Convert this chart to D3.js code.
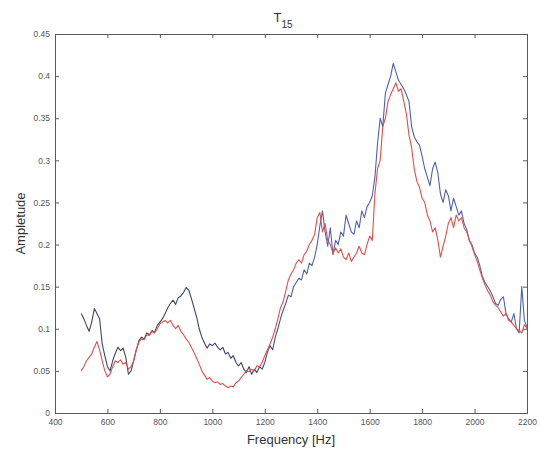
<!DOCTYPE html>
<html>
<head>
<meta charset="utf-8">
<script src="https://cdn.jsdelivr.net/npm/d3@7"></script>
<style>
  html, body { margin: 0; padding: 0; background: #fff; }
  svg { display: block; font-family: Arial, "Liberation Sans", sans-serif; }
</style>
</head>
<body>
<svg id="chart" width="540" height="454"></svg>
<script>
// Frequency grid (Hz), 10 Hz spacing
const freqStart = 500, freqStep = 10;

// Spectrum amplitudes, blue series
const blueSeries = [
  0.118,0.112,0.104,0.097,0.108,0.124,0.118,0.112,0.082,0.068,
  0.055,0.050,0.062,0.071,0.078,0.074,0.077,0.066,0.046,0.050,
  0.062,0.075,0.086,0.090,0.088,0.095,0.093,0.098,0.096,0.104,
  0.108,0.112,0.118,0.125,0.130,0.134,0.129,0.137,0.139,0.143,
  0.149,0.146,0.136,0.125,0.114,0.100,0.090,0.083,0.077,0.082,
  0.080,0.083,0.078,0.075,0.078,0.070,0.072,0.065,0.068,0.060,
  0.056,0.060,0.052,0.048,0.055,0.046,0.052,0.048,0.055,0.052,
  0.060,0.072,0.080,0.075,0.090,0.100,0.112,0.122,0.130,0.140,
  0.138,0.150,0.155,0.160,0.158,0.170,0.165,0.178,0.175,0.185,
  0.200,0.222,0.240,0.215,0.198,0.220,0.188,0.205,0.200,0.215,
  0.210,0.235,0.225,0.215,0.212,0.228,0.220,0.240,0.232,0.245,
  0.250,0.258,0.280,0.320,0.350,0.340,0.380,0.390,0.400,0.415,
  0.405,0.395,0.390,0.385,0.378,0.370,0.340,0.328,0.322,0.318,
  0.305,0.290,0.280,0.270,0.290,0.298,0.285,0.260,0.250,0.265,
  0.258,0.240,0.255,0.245,0.235,0.240,0.225,0.218,0.205,0.200,
  0.190,0.185,0.175,0.162,0.155,0.150,0.145,0.138,0.130,0.128,
  0.135,0.138,0.118,0.112,0.108,0.118,0.100,0.095,0.150,0.110,
  0.102
];

// Spectrum amplitudes, red series
const redSeries = [
  0.050,0.055,0.062,0.066,0.070,0.078,0.085,0.075,0.062,0.050,
  0.043,0.046,0.055,0.062,0.060,0.063,0.058,0.060,0.052,0.055,
  0.062,0.075,0.084,0.088,0.087,0.093,0.092,0.097,0.095,0.100,
  0.106,0.108,0.110,0.107,0.110,0.104,0.100,0.104,0.097,0.093,
  0.088,0.084,0.078,0.072,0.065,0.058,0.050,0.045,0.040,0.042,
  0.038,0.036,0.037,0.034,0.035,0.032,0.030,0.032,0.031,0.036,
  0.038,0.042,0.046,0.050,0.049,0.052,0.050,0.056,0.055,0.060,
  0.068,0.075,0.082,0.090,0.100,0.112,0.125,0.132,0.145,0.158,
  0.165,0.170,0.178,0.182,0.178,0.188,0.192,0.200,0.205,0.212,
  0.232,0.238,0.215,0.225,0.205,0.200,0.190,0.196,0.190,0.195,
  0.185,0.182,0.190,0.180,0.185,0.190,0.198,0.190,0.188,0.200,
  0.210,0.205,0.260,0.290,0.300,0.340,0.350,0.370,0.378,0.385,
  0.392,0.382,0.385,0.370,0.355,0.330,0.315,0.290,0.275,0.268,
  0.255,0.250,0.235,0.228,0.215,0.220,0.205,0.185,0.198,0.210,
  0.225,0.232,0.220,0.235,0.228,0.232,0.220,0.215,0.205,0.198,
  0.188,0.180,0.170,0.160,0.152,0.145,0.140,0.132,0.128,0.125,
  0.120,0.115,0.118,0.110,0.108,0.104,0.100,0.098,0.095,0.105,
  0.100
];

const xTicks = [400, 600, 800, 1000, 1200, 1400, 1600, 1800, 2000, 2200];
const yTicks = [0, 0.05, 0.1, 0.15, 0.2, 0.25, 0.3, 0.35, 0.4, 0.45];

const titleMain = "T", titleSub = "15";
const xLabel = "Frequency [Hz]";
const yLabel = "Ampletude";

const svg = d3.select("#chart");
const margin = { left: 55, right: 13, top: 34, bottom: 41 };
const W = 540, H = 454;
const x = d3.scaleLinear().domain([400, 2200]).range([margin.left, W - margin.right]);
const y = d3.scaleLinear().domain([0, 0.45]).range([H - margin.bottom, margin.top]);

// blue trace is darker (slate) at low frequency, brighter blue above ~1250 Hz
const defs = svg.append("defs");
const grad = defs.append("linearGradient")
  .attr("id", "blueTrace")
  .attr("gradientUnits", "userSpaceOnUse")
  .attr("x1", x(1150)).attr("x2", x(1350)).attr("y1", 0).attr("y2", 0);
grad.append("stop").attr("offset", 0).attr("stop-color", "#3e4566");
grad.append("stop").attr("offset", 1).attr("stop-color", "#5060b0");

const series = [
  { name: "blue", values: blueSeries, color: "url(#blueTrace)" },
  { name: "red",  values: redSeries,  color: "#e0504a" }
];

const axisColor = "#5a5a5a";
const fmtY = d => d === 0 ? "0" : d3.format("")(+d.toFixed(2));

// curves
const line = d3.line()
  .x((d, i) => x(freqStart + i * freqStep))
  .y(d => y(d));

svg.append("g").selectAll("path")
  .data(series)
  .join("path")
  .attr("d", s => line(s.values))
  .attr("fill", "none")
  .attr("stroke", s => s.color)
  .attr("stroke-width", 1.1)
  .attr("stroke-linejoin", "round");

// axes with inward ticks on all four sides
const tickLen = 4;
const axBottom = svg.append("g").attr("transform", `translate(0,${y(0)})`)
  .call(d3.axisBottom(x).tickValues(xTicks).tickSize(-tickLen).tickPadding(6).tickFormat(d3.format("")));
const axTop = svg.append("g").attr("transform", `translate(0,${y(0.45)})`)
  .call(d3.axisTop(x).tickValues(xTicks).tickSize(-tickLen).tickFormat(""));
const axLeft = svg.append("g").attr("transform", `translate(${x(400)},0)`)
  .call(d3.axisLeft(y).tickValues(yTicks).tickSize(-tickLen).tickPadding(5).tickFormat(fmtY));
const axRight = svg.append("g").attr("transform", `translate(${x(2200)},0)`)
  .call(d3.axisRight(y).tickValues(yTicks).tickSize(-tickLen).tickFormat(""));

[axBottom, axTop, axLeft, axRight].forEach(g => {
  g.select(".domain").attr("stroke", axisColor).attr("stroke-width", 1);
  g.selectAll(".tick line").attr("stroke", axisColor);
  g.selectAll(".tick text").attr("fill", "#555").attr("font-size", 8.5)
    .attr("font-family", "Arial, 'Liberation Sans', sans-serif");
});

// title with subscript
const title = svg.append("text")
  .attr("x", 283).attr("y", 22)
  .attr("text-anchor", "middle")
  .attr("fill", "#333")
  .attr("font-size", 13);
title.append("tspan").text(titleMain);
title.append("tspan").attr("dy", 6).attr("font-size", 10).text(titleSub);

// axis labels
svg.append("text")
  .attr("x", 291).attr("y", 444)
  .attr("text-anchor", "middle")
  .attr("fill", "#333")
  .attr("font-size", 13)
  .text(xLabel);

svg.append("text")
  .attr("transform", `translate(25,${(y(0) + y(0.45)) / 2}) rotate(-90)`)
  .attr("text-anchor", "middle")
  .attr("fill", "#333")
  .attr("font-size", 13)
  .text(yLabel);
</script>
</body>
</html>
